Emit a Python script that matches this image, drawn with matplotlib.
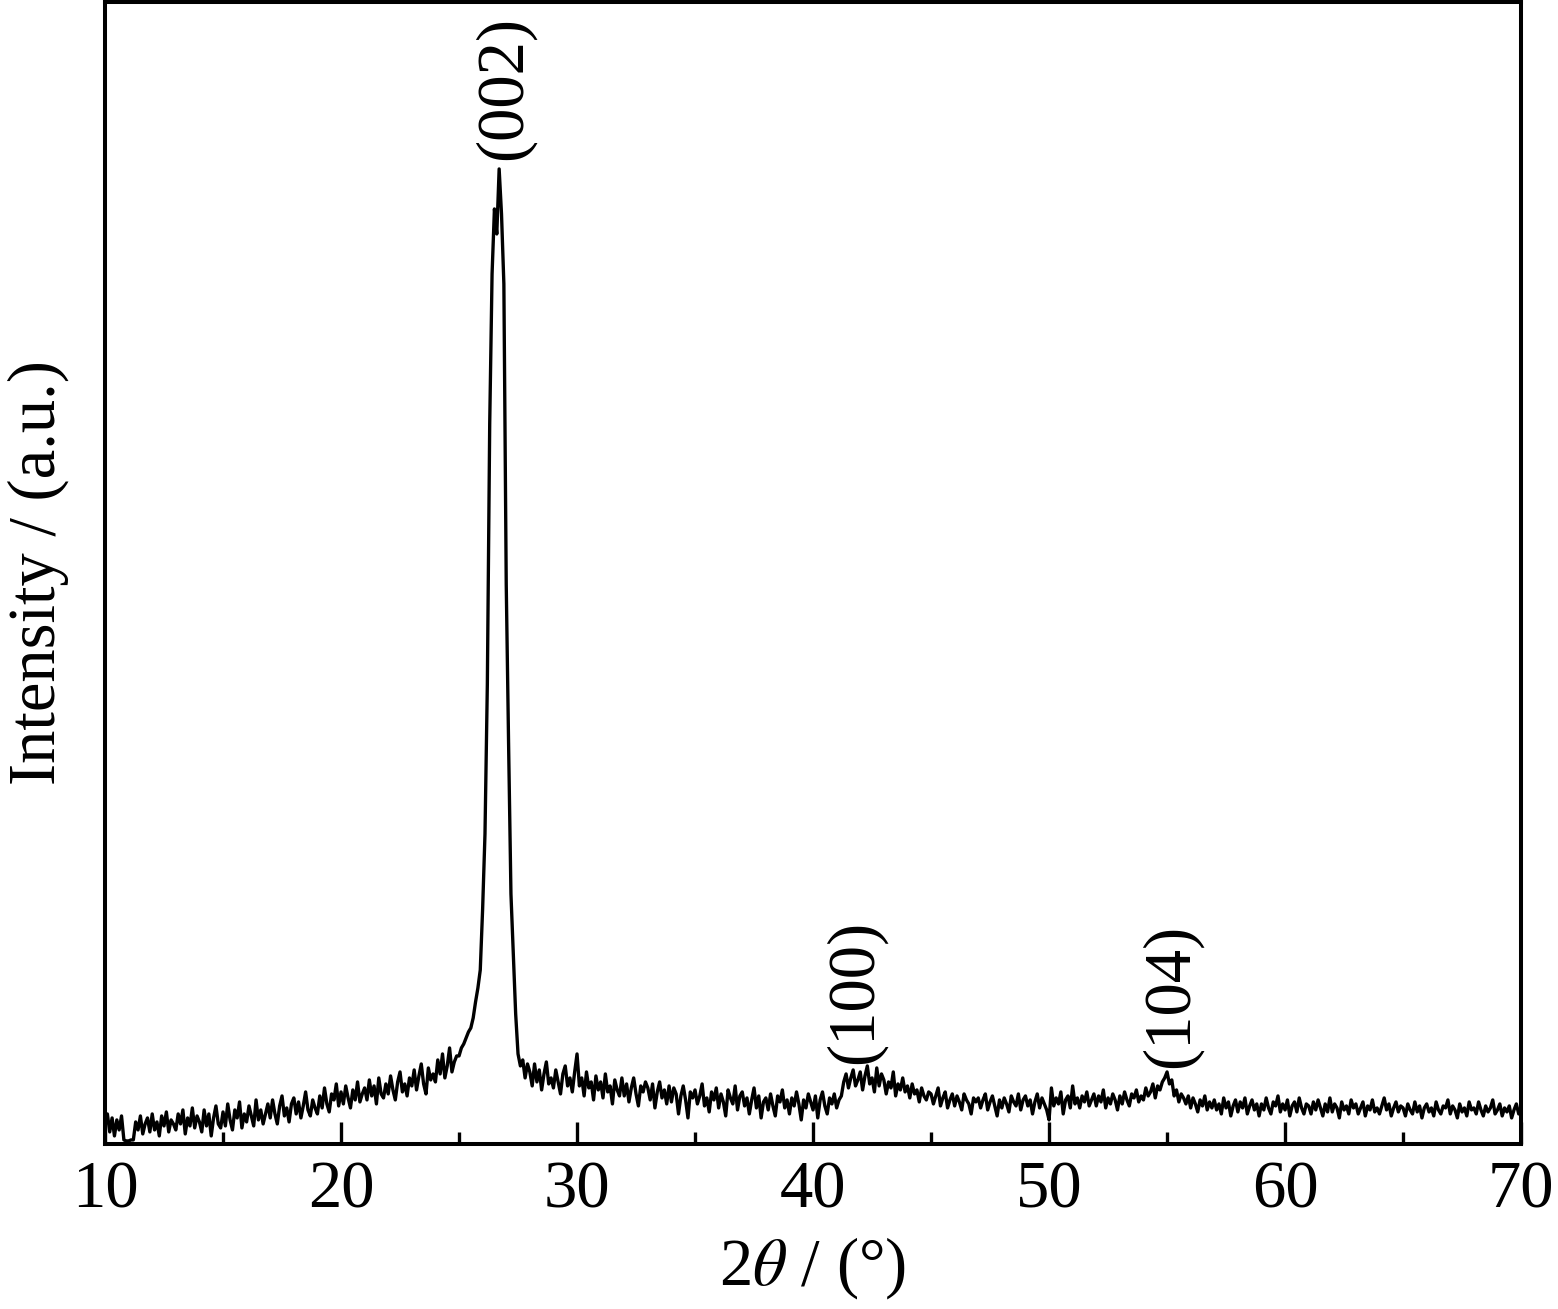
import numpy as np
import matplotlib.pyplot as plt

# XRD scan, 0.1 deg step, intensity in arbitrary units
two_theta = np.round(np.arange(10.0, 70.05, 0.1), 1)

intensity = [
    18, 30, 12, 26, 8, 24, 14, 28, 4, 3,          # 10
    3, 4, 4, 22, 14, 28, 10, 20, 26, 12,          # 11
    30, 14, 22, 8, 28, 18, 32, 12, 24, 20,        # 12
    14, 30, 20, 34, 10, 26, 18, 36, 16, 28,       # 13
    22, 12, 34, 18, 30, 8, 26, 38, 20, 16,        # 14
    32, 18, 40, 24, 14, 34, 26, 42, 16, 30,       # 15
    22, 38, 28, 18, 44, 24, 34, 20, 30, 40,       # 16
    26, 44, 30, 20, 38, 48, 28, 36, 22, 40,       # 17
    46, 30, 42, 26, 38, 52, 34, 28, 44, 36,       # 18
    30, 48, 36, 56, 40, 32, 50, 44, 60, 38,       # 19
    52, 40, 58, 46, 36, 54, 44, 62, 42, 50,       # 20
    56, 44, 64, 48, 58, 40, 66, 50, 46, 60,       # 21
    50, 68, 54, 44, 62, 72, 52, 60, 48, 66,       # 22
    58, 74, 54, 68, 80, 60, 50, 76, 64, 70,       # 23
    62, 84, 70, 90, 66, 78, 96, 72, 82, 88,       # 24
    88, 96, 100, 106, 112, 116, 126, 142, 156, 174,  # 25
    235, 310, 460, 720, 870, 935, 910, 975, 930, 860,  # 26
    560, 400, 250, 190, 130, 90, 78, 84, 66, 80,  # 27
    72, 58, 80, 62, 74, 54, 70, 82, 60, 66,       # 28
    56, 74, 62, 50, 70, 78, 58, 66, 52, 72,       # 29
    90, 58, 66, 48, 72, 56, 62, 44, 68, 54,       # 30
    62, 46, 70, 52, 58, 40, 64, 54, 48, 66,       # 31
    48, 60, 42, 56, 66, 50, 38, 58, 52, 62,       # 32
    56, 44, 60, 36, 52, 62, 46, 54, 40, 58,       # 33
    42, 56, 50, 30, 48, 58, 44, 26, 52, 46,       # 34
    54, 40, 48, 60, 38, 46, 32, 52, 44, 56,       # 35
    36, 50, 42, 28, 54, 46, 40, 58, 34, 48,       # 36
    52, 38, 46, 30, 44, 56, 36, 48, 26, 42,       # 37
    46, 34, 50, 38, 28, 48, 42, 54, 36, 44,       # 38
    30, 46, 38, 52, 40, 24, 44, 36, 50, 42,       # 39
    34, 48, 26, 44, 52, 38, 30, 46, 40, 50,       # 40
    36, 44, 48, 62, 70, 56, 66, 74, 58, 64,       # 41
    72, 54, 68, 78, 60, 66, 52, 76, 58, 70,       # 42
    64, 50, 62, 56, 72, 48, 60, 54, 66, 52,       # 43
    58, 46, 60, 50, 54, 42, 56, 48, 44, 52,       # 44
    50, 40, 48, 56, 38, 46, 52, 36, 44, 50,       # 45
    38, 48, 42, 34, 50, 44, 40, 30, 46, 42,       # 46
    46, 36, 44, 50, 34, 42, 48, 38, 28, 44,       # 47
    36, 46, 40, 32, 48, 42, 38, 50, 34, 44,       # 48
    48, 38, 44, 30, 42, 50, 36, 46, 40, 34,       # 49
    24, 56, 38, 46, 40, 52, 30, 44, 48, 36,       # 50
    58, 40, 46, 36, 48, 42, 52, 38, 44, 50,       # 51
    38, 48, 42, 54, 36, 46, 40, 50, 44, 34,       # 52
    48, 40, 52, 44, 38, 50, 46, 54, 42, 48,       # 53
    44, 56, 48, 52, 60, 46, 58, 54, 62, 66,       # 54
    72, 60, 64, 48, 54, 42, 50, 46, 40, 48,       # 55
    36, 46, 40, 32, 44, 38, 48, 34, 42, 36,       # 56
    44, 34, 40, 30, 46, 36, 42, 28, 38, 44,       # 57
    32, 42, 36, 46, 30, 38, 44, 34, 40, 28,       # 58
    40, 34, 46, 36, 30, 42, 38, 48, 32, 40,       # 59
    34, 44, 28, 38, 42, 32, 46, 36, 30, 40,       # 60
    38, 30, 42, 34, 44, 36, 28, 40, 32, 46,       # 61
    32, 40, 36, 26, 42, 34, 38, 30, 44, 36,       # 62
    40, 30, 36, 42, 28, 38, 34, 44, 32, 36,       # 63
    30, 38, 46, 34, 40, 28, 36, 42, 32, 38,       # 64
    36, 28, 40, 34, 30, 42, 32, 38, 26, 36,       # 65
    40, 32, 36, 28, 42, 34, 30, 38, 36, 44,       # 66
    30, 38, 34, 26, 40, 32, 36, 28, 42, 34,       # 67
    36, 30, 42, 34, 28, 38, 32, 36, 44, 30,       # 68
    34, 40, 28, 36, 32, 38, 26, 34, 40, 30,       # 69
    34,                                           # 70
]

# peak labels (hkl) and where they sit
peak_labels = ['(002)', '(100)', '(104)']
label_x = [26.9, 41.78, 55.2]
label_y = [1056, 152, 148]

plt.rcParams['font.family'] = 'Liberation Serif'
plt.rcParams['mathtext.fontset'] = 'stix'

fig = plt.figure(figsize=(15.58, 13.09), dpi=100)
ax = fig.add_axes([0.0674, 0.1261, 0.9089, 0.8724])

ax.plot(two_theta, intensity, color='black', lw=2.4)

for lab, x, y in zip(peak_labels, label_x, label_y):
    ax.text(x, y, lab, rotation=90, ha='center', va='center', fontsize=48)

ax.set_xlim(10, 70)
ax.set_ylim(0, 1142)
ax.set_xticks([10, 20, 30, 40, 50, 60, 70])
ax.set_xticks([15, 25, 35, 45, 55, 65], minor=True)
ax.set_yticks([])

ax.tick_params(axis='x', which='major', direction='in', length=16, width=2.4,
               labelsize=48, pad=12)
ax.tick_params(axis='x', which='minor', direction='in', length=8.6, width=2.4)
for s in ax.spines.values():
    s.set_linewidth(2.9)

ax.set_xlabel(r'2$\theta$ / (°)', fontsize=48, labelpad=10)
ax.set_ylabel('Intensity / (a.u.)', fontsize=48, labelpad=26)

fig.savefig('out.png', dpi=100)
